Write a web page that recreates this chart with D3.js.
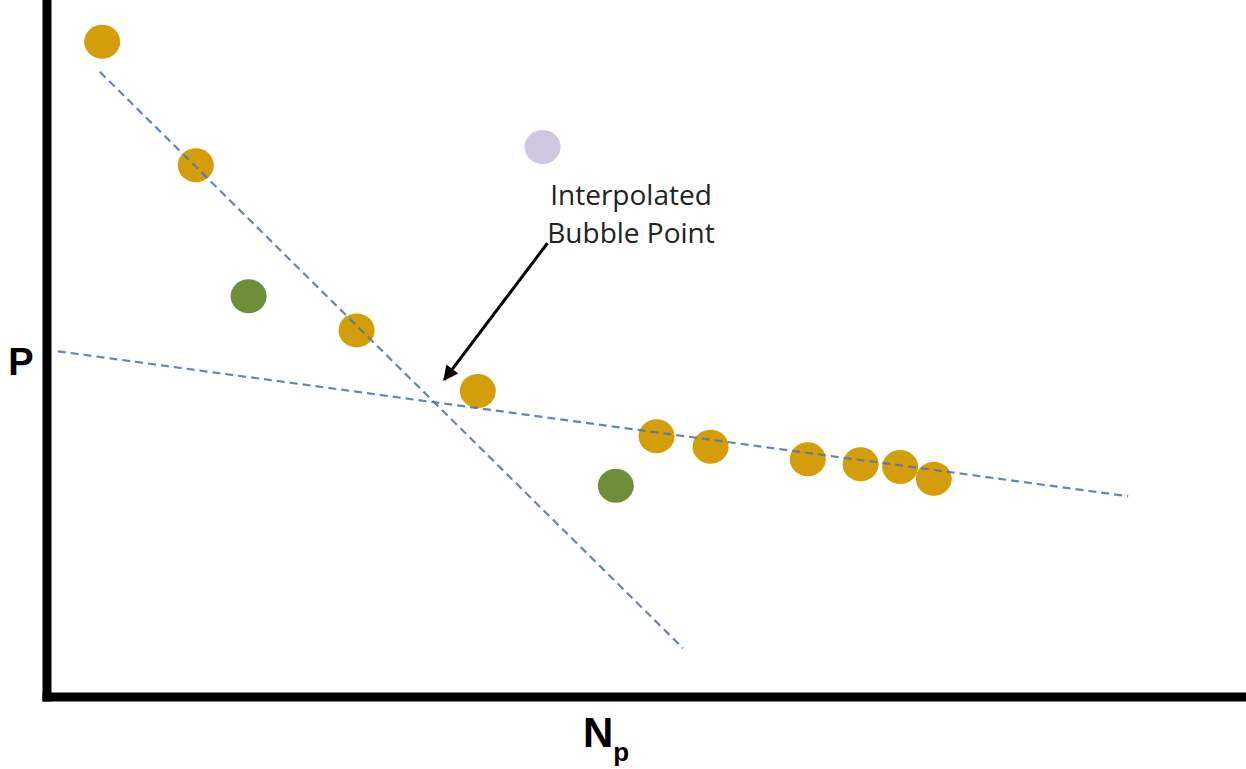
<!DOCTYPE html>
<html>
<head>
<meta charset="utf-8">
<script src="https://cdn.jsdelivr.net/npm/d3@7"></script>
<style>
  html, body { margin: 0; padding: 0; background: #fff; }
  svg { display: block; }
</style>
</head>
<body>
<svg id="chart" width="1246" height="769"></svg>
<script>
// ---- data (arbitrary units: x = Np, y = P) ----
const goldX = [4.6, 12.4, 25.8, 35.9, 50.8, 55.3, 63.4, 67.8, 71.1, 73.9];
const goldY = [94.0, 76.3, 52.6, 43.9, 37.4, 35.9, 34.1, 33.4, 33.0, 31.3];
const greenX = [16.8, 47.4];
const greenY = [57.5, 30.3];
const lavenderX = [41.3];
const lavenderY = [78.9];
// dashed trend lines: [x0, y0, x1, y1]
const trendSteep = [4.4, 89.7, 53.0, 7.0];
const trendFlat = [0.9, 49.6, 90.1, 28.8];
// annotation arrow: from label to interpolated bubble point
const arrowFrom = [41.7, 65.1];
const arrowTo = [33.1, 45.5];
const annotationLines = ["Interpolated", "Bubble Point"];
const xLabel = "N";
const xLabelSub = "p";
const yLabel = "P";

const svg = d3.select("#chart");
const x = d3.scaleLinear().domain([0, 100]).range([47, 1247]);
const y = d3.scaleLinear().domain([0, 100]).range([697, 0]);

// arrow marker
svg.append("defs").append("marker")
  .attr("id", "arrowhead")
  .attr("viewBox", "0 0 10 10")
  .attr("refX", 9).attr("refY", 5)
  .attr("markerWidth", 6).attr("markerHeight", 5)
  .attr("markerUnits", "strokeWidth")
  .attr("orient", "auto")
  .append("path").attr("d", "M0,0 L10,5 L0,10 Z").attr("fill", "#000");

// points
function drawPoints(xs, ys, color) {
  svg.append("g").selectAll("ellipse")
    .data(xs.map((d, i) => [d, ys[i]]))
    .join("ellipse")
    .attr("cx", d => x(d[0]))
    .attr("cy", d => y(d[1]))
    .attr("rx", 18).attr("ry", 17)
    .attr("fill", color);
}
drawPoints(goldX, goldY, "#D39E09");
drawPoints(greenX, greenY, "#6F8D3B");
drawPoints(lavenderX, lavenderY, "#CEC7DF");

// dashed lines
[trendSteep, trendFlat].forEach(t => {
  svg.append("line")
    .attr("x1", x(t[0])).attr("y1", y(t[1]))
    .attr("x2", x(t[2])).attr("y2", y(t[3]))
    .attr("stroke", "#5877AA")
    .attr("stroke-width", 2.2)
    .attr("stroke-opacity", 0.9)
    .attr("stroke-dasharray", "8,5");
});

// axes
svg.append("g").attr("transform", `translate(0,${y(0)})`)
  .call(d3.axisBottom(x).ticks(0).tickSizeOuter(0))
  .call(g => g.select(".domain").attr("stroke", "#000").attr("stroke-width", 9)
    .attr("d", `M${x(0) - 4.5},0H1246`));
svg.append("g").attr("transform", `translate(${x(0)},0)`)
  .call(d3.axisLeft(y).ticks(0).tickSizeOuter(0))
  .call(g => g.select(".domain").attr("stroke", "#000").attr("stroke-width", 9)
    .attr("d", `M0,${y(0) + 4.5}V0`));

// arrow
svg.append("line")
  .attr("x1", x(arrowFrom[0])).attr("y1", y(arrowFrom[1]))
  .attr("x2", x(arrowTo[0])).attr("y2", y(arrowTo[1]))
  .attr("stroke", "#000").attr("stroke-width", 3)
  .attr("marker-end", "url(#arrowhead)");

// annotation text
const ann = svg.append("text")
  .attr("font-family", "'Open Sans', sans-serif")
  .attr("font-size", 28)
  .attr("fill", "#222")
  .attr("text-anchor", "middle");
annotationLines.forEach((t, i) => {
  ann.append("tspan").attr("x", 631).attr("y", 205 + i * 38).text(t);
});

// axis labels
svg.append("text")
  .attr("x", 21).attr("y", 375)
  .attr("text-anchor", "middle")
  .attr("font-family", "'Liberation Sans', Arial, sans-serif")
  .attr("font-weight", "bold").attr("font-size", 38)
  .attr("fill", "#000").text(yLabel);

const xl = svg.append("text")
  .attr("x", 583).attr("y", 747)
  .attr("font-family", "'Liberation Sans', Arial, sans-serif")
  .attr("font-weight", "bold").attr("font-size", 42)
  .attr("fill", "#000");
xl.append("tspan").text(xLabel);
xl.append("tspan").attr("dy", 14).attr("font-size", 26).text(xLabelSub);
</script>
</body>
</html>
